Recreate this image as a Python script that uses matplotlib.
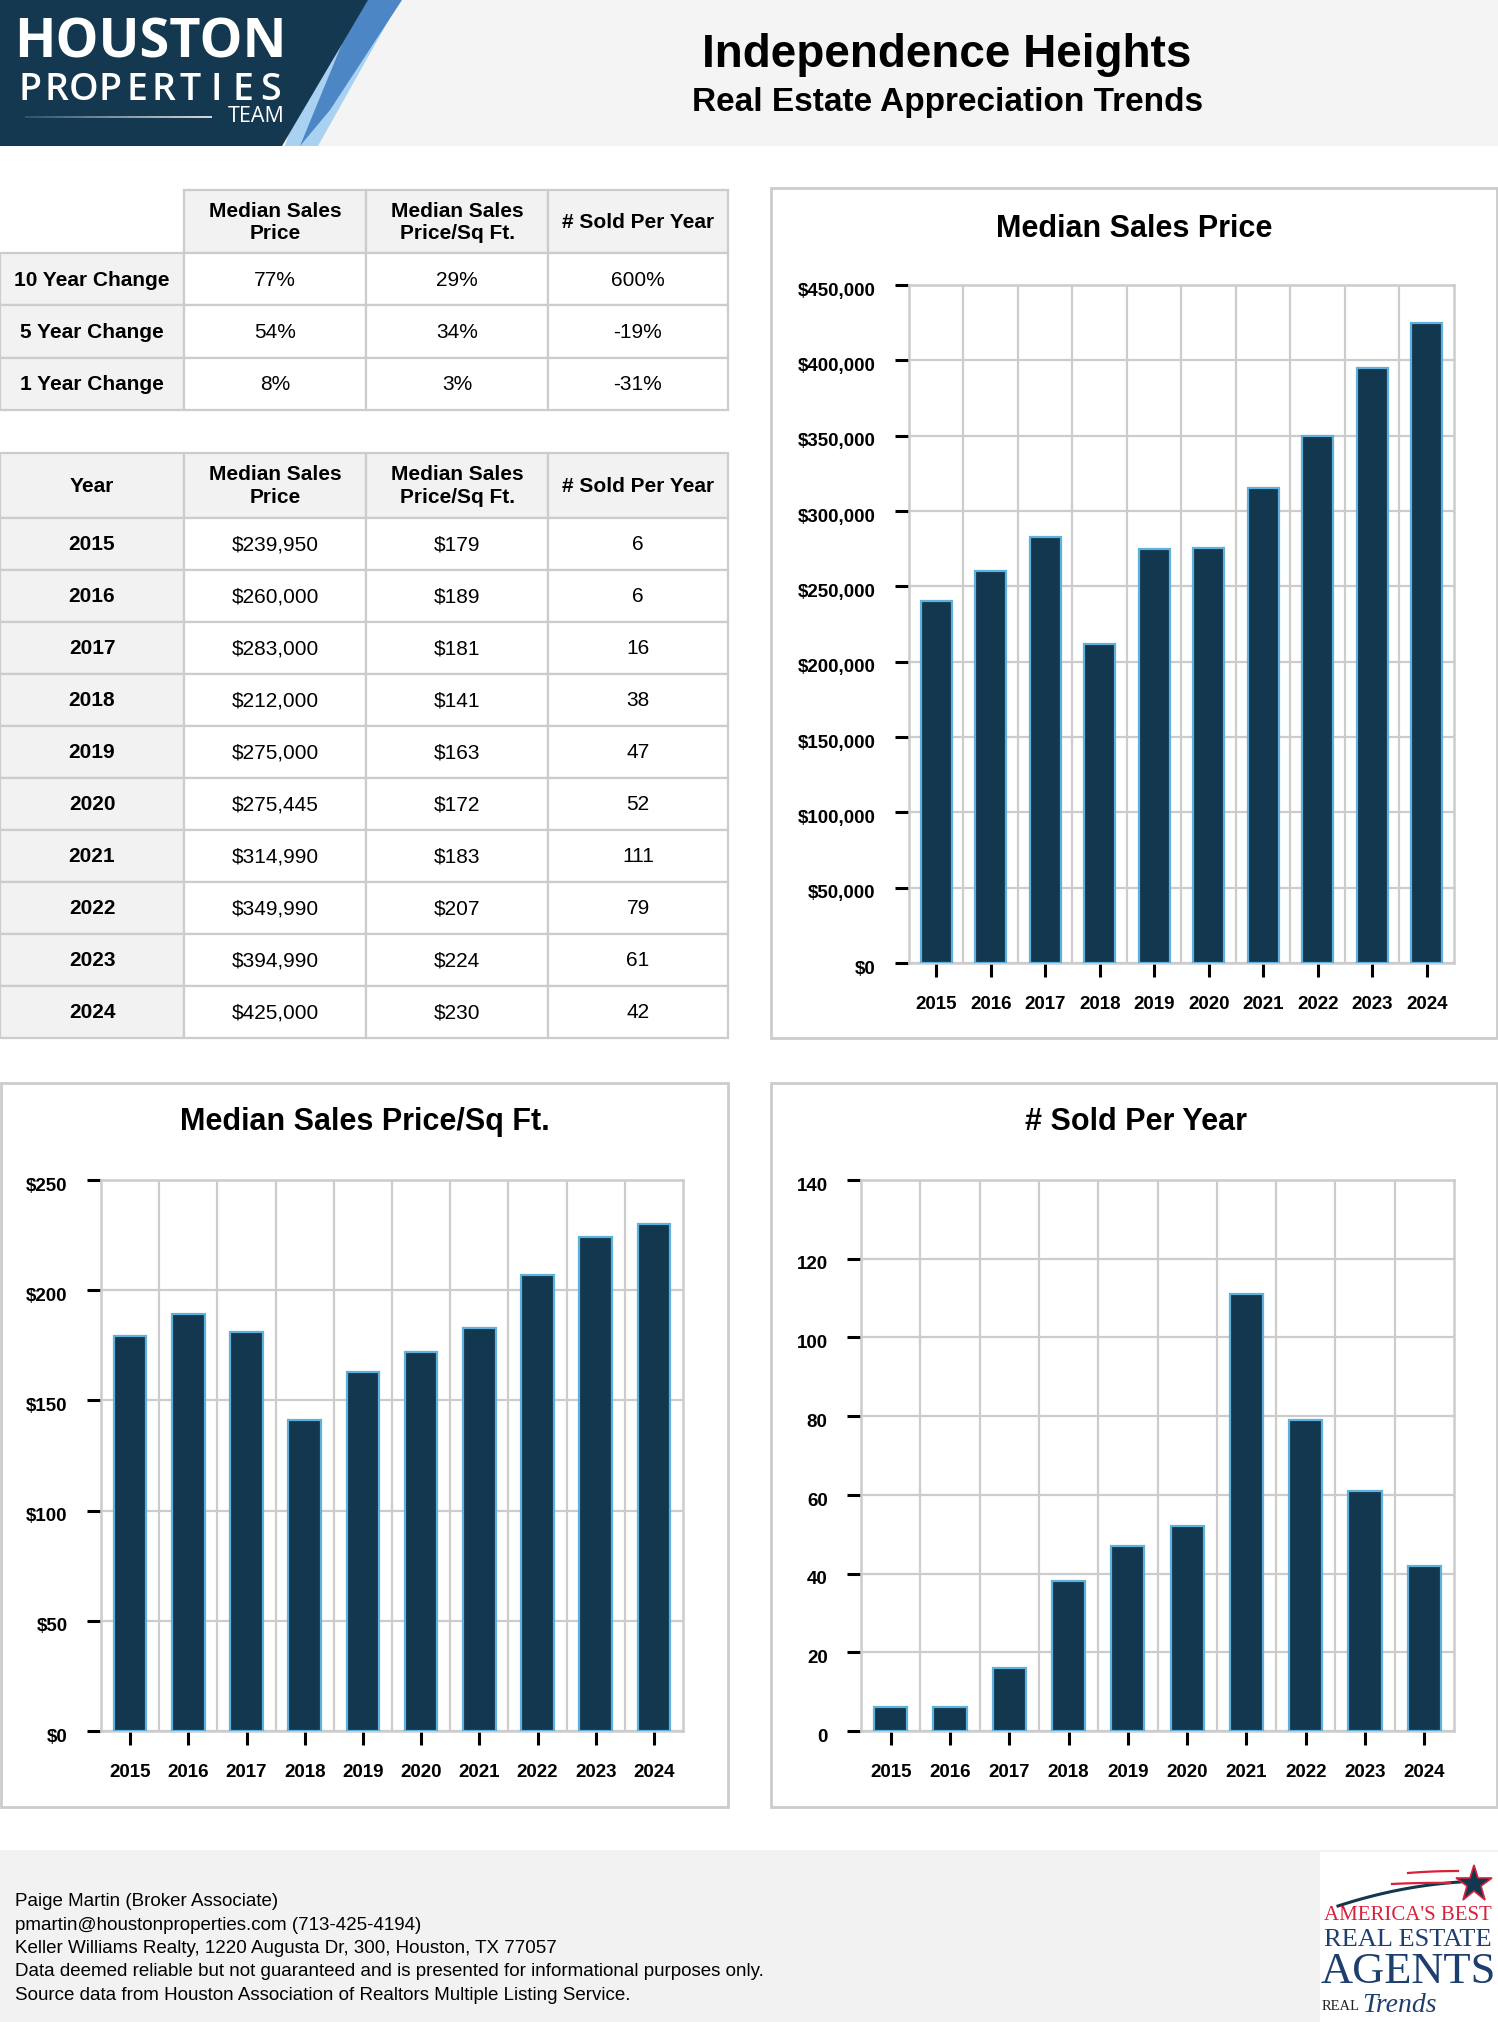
import matplotlib
matplotlib.use("Agg")
from matplotlib import pyplot as plt
from matplotlib.patches import Rectangle, Polygon
from matplotlib.ticker import FuncFormatter, MultipleLocator
from matplotlib.transforms import ScaledTranslation
import numpy as np

# ---- data ----
years = [2015, 2016, 2017, 2018, 2019, 2020, 2021, 2022, 2023, 2024]
median_price = [239950, 260000, 283000, 212000, 275000, 275445, 314990, 349990, 394990, 425000]
price_sqft = [179, 189, 181, 141, 163, 172, 183, 207, 224, 230]
sold_per_year = [6, 6, 16, 38, 47, 52, 111, 79, 61, 42]

change_labels = ["10 Year Change", "5 Year Change", "1 Year Change"]
change_price = ["77%", "54%", "8%"]
change_sqft = ["29%", "34%", "3%"]
change_sold = ["600%", "-19%", "-31%"]
col_headers = ["Median Sales\nPrice", "Median Sales\nPrice/Sq Ft.", "# Sold Per Year"]

footer_lines = [
    "Paige Martin (Broker Associate)",
    "pmartin@houstonproperties.com (713-425-4194)",
    "Keller Williams Realty, 1220 Augusta Dr, 300, Houston, TX 77057",
    "Data deemed reliable but not guaranteed and is presented for informational purposes only.",
    "Source data from Houston Association of Realtors Multiple Listing Service.",
]

W, H = 1498, 2022
NAVY = "#12374e"
EDGE = "#5fb0da"
GRID = "#cccccc"
LIGHT = "#f2f2f2"
FONT = "Liberation Sans"

plt.rcParams['font.family'] = [FONT, 'DejaVu Sans']

fig = plt.figure(figsize=(W / 100, H / 100), dpi=100)
bg = fig.add_axes([0, 0, 1, 1])
bg.set_xlim(0, W)
bg.set_ylim(H, 0)
bg.axis("off")


def px_axes(x0, y0, x1, y1):
    return fig.add_axes([x0 / W, 1 - y1 / H, (x1 - x0) / W, (y1 - y0) / H])


# ---- header ----
bg.add_patch(Rectangle((0, 0), W, 146, facecolor="#f4f4f4", edgecolor="none"))
bg.add_patch(Polygon([(330, 0), (400, 0), (318, 146), (285, 146)], facecolor="#a9d1f1", edgecolor="none"))
bg.add_patch(Polygon([(360, 0), (402, 0), (330, 110), (300, 146)], facecolor="#4d86c4", edgecolor="none"))
bg.add_patch(Polygon([(0, 0), (368, 0), (282, 146), (0, 146)], facecolor="#13384f", edgecolor="none"))
bg.text(150, 44, "HOUSTON", color="white", fontsize=39, fontweight="bold",
        family="Open Sans", ha="center", va="center")
# letter-spaced "PROPERTIES"
px = np.linspace(30, 270, 10)
for xx, ch in zip(px, "PROPERTIES"):
    bg.text(xx, 90, ch, color="white", fontsize=27, fontweight="semibold", family="Open Sans",
            ha="center", va="center")
bg.text(285, 117, "TEAM", color="white", fontsize=15.5, family="Open Sans", ha="right", va="center")
xs = np.linspace(25, 212, 30)
for i in range(len(xs) - 1):
    bg.plot(xs[i:i + 2], [117, 117], color="white", lw=1.3, alpha=0.15 + 0.8 * i / len(xs),
            solid_capstyle="butt")

bg.text(947, 55, "Independence Heights", fontsize=33, fontweight="bold", ha="center", va="center")
bg.text(948, 103, "Real Estate Appreciation Trends", fontsize=24, fontweight="bold",
        ha="center", va="center")

# ---- tables ----
col_x = [0, 184, 366, 548, 728]


def cell(x0, x1, y0, y1, text, fill, bold, size=15):
    bg.add_patch(Rectangle((x0, y0), x1 - x0, y1 - y0, facecolor=fill,
                           edgecolor=GRID, lw=1.6))
    if text:
        bg.text((x0 + x1) / 2, (y0 + y1) / 2 + 1, text, fontsize=size,
                fontweight="bold" if bold else "normal", ha="center", va="center",
                linespacing=1.25)


def table(top, header_h, row_h, corner, rows):
    for i in range(4):
        if i == 0 and corner is None:
            continue
        label = corner if i == 0 else col_headers[i - 1]
        cell(col_x[i], col_x[i + 1], top, top + header_h, label, LIGHT, True)
    y = top + header_h
    for r in rows:
        for i in range(4):
            cell(col_x[i], col_x[i + 1], y, y + row_h, r[i],
                 LIGHT if i == 0 else "white", i == 0)
        y += row_h


table(190, 63, 52.3, None,
      list(zip(change_labels, change_price, change_sqft, change_sold)))
table(452.5, 65.5, 51.95, "Year",
      [(str(y), f"${p:,}", f"${s}", str(n))
       for y, p, s, n in zip(years, median_price, price_sqft, sold_per_year)])

# ---- chart panels ----
panels = [(771, 188, 1497, 1038), (1, 1083, 728, 1807), (771, 1083, 1497, 1807)]
for x0, y0, x1, y1 in panels:
    bg.add_patch(Rectangle((x0, y0), x1 - x0, y1 - y0, facecolor="white",
                           edgecolor=GRID, lw=2))

bg.text(1134, 229, "Median Sales Price", fontsize=22, fontweight="bold", ha="center", va="center")
bg.text(365, 1122, "Median Sales Price/Sq Ft.", fontsize=22, fontweight="bold", ha="center", va="center")
bg.text(1136, 1122, "# Sold Per Year", fontsize=22, fontweight="bold", ha="center", va="center")


def bar_chart(ax, values, ymax, step, fmt):
    x = np.arange(len(years))
    ax.bar(x, values, width=0.56, color=NAVY, edgecolor=EDGE, linewidth=1.6, zorder=3)
    ax.set_xlim(-0.5, len(years) - 0.5)
    ax.set_ylim(0, ymax)
    ax.yaxis.set_major_locator(MultipleLocator(step))
    ax.yaxis.set_major_formatter(FuncFormatter(fmt))
    ax.set_xticks(x)
    ax.set_xticklabels([str(y) for y in years])
    ax.set_xticks(np.arange(0.5, len(years) - 1, 1), minor=True)
    ax.grid(axis="y", which="major", color=GRID, lw=1.6)
    ax.grid(axis="x", which="minor", color=GRID, lw=1.6)
    ax.set_axisbelow(True)
    ax.tick_params(axis="both", which="major", length=10, width=2.2, color="black",
                   labelsize=13.5)
    ax.tick_params(axis="x", which="major", pad=14)
    ax.tick_params(axis="y", which="major", pad=14)
    ax.tick_params(axis="x", which="minor", length=0)
    shift = ScaledTranslation(0, -3 / 72, fig.dpi_scale_trans)
    for lab in ax.get_xticklabels() + ax.get_yticklabels():
        lab.set_fontweight("bold")
    for lab in ax.get_yticklabels():
        lab.set_transform(lab.get_transform() + shift)
    for sp in ax.spines.values():
        sp.set_color(GRID)
        sp.set_linewidth(1.8)


ax1 = px_axes(909, 285, 1454, 963)
bar_chart(ax1, median_price, 450000, 50000, lambda v, p: f"${v:,.0f}")
ax2 = px_axes(101, 1180, 683, 1731)
bar_chart(ax2, price_sqft, 250, 50, lambda v, p: f"${v:,.0f}")
ax3 = px_axes(861, 1180, 1454, 1731)
bar_chart(ax3, sold_per_year, 140, 20, lambda v, p: f"{v:.0f}")

# ---- footer ----
bg.add_patch(Rectangle((0, 1850), W, H - 1850, facecolor=LIGHT, edgecolor="none"))
for i, line in enumerate(footer_lines):
    bg.text(15, 1902 + i * 23.3, line, fontsize=13.5, ha="left", va="center")

bg.add_patch(Rectangle((1320, 1852), W - 1320, H - 1852, facecolor="white", edgecolor="none"))
t = np.linspace(0, 1, 50)
bg.plot(1338 + 122 * t, 1906 - 40 * t + 16 * t ** 2, color=NAVY, lw=2.2)
bg.plot(1408 + 50 * t, 1873 - 4 * t + 2 * t ** 2, color="#d9213a", lw=1.6)
bg.plot(1392 + 58 * t, 1884 - 3 * t + 2 * t ** 2, color="#d9213a", lw=1.6)
bg.plot(1474, 1884, marker="*", markersize=28, color=NAVY, markeredgecolor="#d9213a",
        markeredgewidth=1.2)
bg.text(1408, 1915, "AMERICA'S BEST", color="#d9213a", fontsize=15, family="Liberation Serif",
        ha="center", va="center")
bg.text(1408, 1940, "REAL ESTATE", color="#1d3f6e", fontsize=19, family="Liberation Serif",
        ha="center", va="center")
bg.text(1408, 1972, "AGENTS", color="#1d3f6e", fontsize=32, family="Liberation Serif",
        ha="center", va="center")
bg.text(1322, 2007, "REAL", color="#222222", fontsize=10.5, family="Liberation Serif",
        ha="left", va="center")
bg.text(1362, 2005, "Trends", color="#1d3f6e", fontsize=20, family="Liberation Serif",
        style="italic", ha="left", va="center")

fig.savefig("out.png", dpi=100)
